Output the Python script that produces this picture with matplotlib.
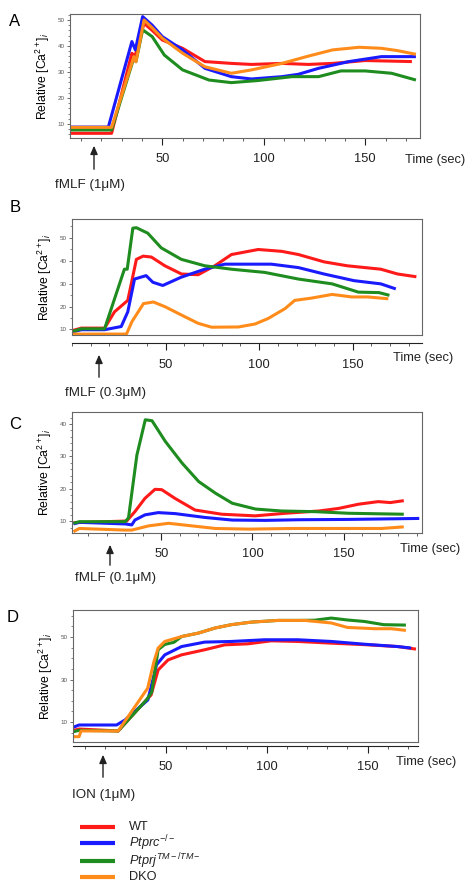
import matplotlib
matplotlib.use("Agg")
import matplotlib.pyplot as plt
from matplotlib.ticker import MultipleLocator
from matplotlib.lines import Line2D

plt.rcParams['font.family'] = ['Liberation Sans', 'DejaVu Sans']
plt.rcParams['mathtext.fontset'] = 'custom'
plt.rcParams['mathtext.rm'] = 'Liberation Sans'
plt.rcParams['mathtext.it'] = 'Liberation Sans:italic'

series_names = ['WT', r'$\mathit{Ptprc}^{-/-}$', r'$\mathit{Ptprj}^{\mathit{TM-/TM-}}$', 'DKO']
series_colors = ['#ff1a1a', '#1a1aff', '#1e8c1e', '#ff8c1a']

# ---- panel A : fMLF 1 uM ----
a_wt_t = [5, 25, 35, 36.5, 41, 45, 50, 60, 71, 84, 94, 109, 122, 134, 150, 173]
a_wt = [6.4, 6.4, 37.2, 36, 48.7, 46, 42.3, 39.1, 34, 33.3, 32.9, 33.3, 32.9, 33.3, 34.4, 34]
a_ko1_t = [5, 23.4, 35, 36.7, 40.3, 45, 50, 60, 71, 84, 94, 109, 117, 127, 142, 158, 175]
a_ko1 = [8.8, 8.8, 41.7, 38.5, 51.3, 48, 43.6, 38.5, 31.4, 28.2, 27.3, 28.2, 29.1, 31.4, 34, 35.9, 35.9]
a_ko2_t = [5, 25, 36, 37, 40.3, 45, 51, 60, 73, 84, 97, 114, 127, 138, 150, 163, 175]
a_ko2 = [7.7, 7.7, 35.5, 34, 46.2, 43.6, 36.5, 30.8, 26.9, 25.9, 26.7, 28.2, 28.2, 30.4, 30.4, 29.5, 26.9]
a_dko_t = [5, 25, 36, 37, 41, 45, 50, 60, 71, 84, 94, 109, 121, 134, 147, 158, 166, 175]
a_dko = [8.7, 8.7, 35.9, 33.9, 50, 47, 43, 37.2, 32, 29.5, 30.8, 33.3, 35.9, 38.5, 39.5, 39.1, 38.2, 36.8]

# ---- panel B : fMLF 0.3 uM ----
b_wt_t = [0.5, 5, 17.4, 22.7, 29.8, 34.4, 38, 42.4, 49.6, 58.5, 67.4, 76.3, 85.2, 99.5, 112, 121, 134.7, 147, 165, 174, 184]
b_wt = [9.6, 10.6, 10.6, 17.7, 22.7, 40.6, 42, 41.6, 37.8, 34.2, 33.9, 37.8, 42.7, 44.9, 44.1, 42.7, 39.5, 37.8, 36.3, 34.2, 33]
b_ko1_t = [0.5, 5, 17.4, 26.3, 29.8, 33.4, 39.6, 43.2, 48.5, 58.3, 70.9, 81.6, 94, 106.5, 121, 134.7, 150.7, 165, 173]
b_ko1 = [9.0, 9.9, 9.9, 11.3, 17.7, 32, 33.5, 30.6, 29.2, 32.8, 36.3, 38.5, 38.5, 38.5, 37, 34.2, 31.3, 29.9, 27.7]
b_ko2_t = [0.5, 5, 17.4, 28, 29.5, 32.5, 34.4, 40.5, 47.7, 58.4, 70.9, 85.2, 103, 121, 139, 153, 164, 169.6]
b_ko2 = [9.2, 10.3, 10.3, 36.3, 36.3, 54.2, 54.4, 52, 45.6, 40.6, 37.8, 36.3, 34.9, 32, 29.9, 26.3, 26.1, 24.9]
b_dko_t = [0.5, 29.1, 32, 38.2, 43.5, 49.8, 58.5, 67.4, 74.6, 88.9, 97.8, 104.8, 113.8, 119, 128, 139, 149.5, 158, 169]
b_dko = [8.0, 8.0, 13.4, 21.3, 22, 19.9, 16.3, 12.7, 11, 11.1, 12.4, 14.8, 19.1, 22.7, 23.7, 25.3, 24.2, 24.2, 23.4]

# ---- panel C : fMLF 0.1 uM ----
c_wt_t = [1.8, 31, 35.5, 41, 46.5, 50.2, 57.5, 68.5, 83.2, 101.5, 118, 136.4, 147.3, 158.2, 169, 175.6, 183]
c_wt = [9.5, 10, 12.9, 17, 19.8, 19.7, 17, 13.4, 12.1, 11.6, 12.4, 13.1, 13.9, 15.2, 16, 15.7, 16.3]
c_ko1_t = [1.8, 5, 30.2, 33.8, 35.5, 41, 48.3, 57.5, 74, 88.9, 107, 125.4, 153, 191.5]
c_ko1 = [9.1, 9.6, 9.1, 8.8, 10.3, 11.9, 12.6, 12.3, 11.1, 10.3, 10.2, 10.4, 10.5, 10.8]
c_ko2_t = [1.8, 5, 30.2, 32, 36.6, 41.2, 44.9, 52.2, 61.4, 70.5, 79.7, 88.9, 101.7, 116, 134.4, 152.7, 183]
c_ko2 = [9.3, 9.8, 9.8, 11, 30.4, 41.3, 41, 34.6, 27.9, 22.2, 18.6, 15.5, 13.7, 13.1, 12.9, 12.4, 12.1]
c_dko_t = [1.8, 5, 30.2, 33.8, 43, 54, 66.8, 79.7, 98, 121.8, 153, 171, 183]
c_dko = [6.7, 7.7, 7.2, 7.2, 8.5, 9.3, 8.5, 7.7, 7.5, 7.7, 7.7, 7.7, 8.2]

# ---- panel D : ionomycin 1 uM ----
d_wt_t = [4.1, 7, 26.4, 40.4, 42.7, 46.2, 51.1, 57.8, 69.3, 79.2, 90.8, 102.3, 115.5, 132, 148.5, 165, 174]
d_wt = [6.0, 6.7, 5.8, 20.4, 22.7, 34.5, 39.2, 41.6, 44, 46.3, 46.8, 48.2, 47.9, 47.1, 46.4, 45.5, 44.3]
d_ko1_t = [4.1, 7, 25.6, 29.7, 41.1, 45.4, 49.5, 57.8, 69.3, 82.5, 99, 115.5, 132, 148.5, 165, 171.6]
d_ko1 = [7.5, 8.6, 8.6, 10.9, 20.4, 36.9, 41.6, 45.5, 47.6, 47.9, 48.7, 48.7, 47.9, 46.6, 45.5, 44.8]
d_ko2_t = [4.1, 7, 26.4, 40.4, 43, 46.2, 49.5, 54, 57.8, 66, 74.3, 82.5, 92.4, 105.6, 115.5, 123.8, 132, 140, 148.5, 158, 169]
d_ko2 = [5.4, 6.1, 5.8, 20.4, 24, 44, 46.5, 47.5, 50.2, 51.8, 54.2, 55.8, 57, 57.8, 57.8, 57.9, 58.9, 58, 57.3, 55.8, 55.6]
d_dko_t = [4.1, 7, 8, 26.4, 41, 44, 46.2, 49.5, 57.8, 66, 74.3, 82.5, 92.4, 105.6, 118.8, 132, 140, 153.5, 161.7, 169]
d_dko = [3.1, 3.1, 5.8, 5.8, 25.9, 38, 44.8, 47.9, 50.2, 51.8, 54.2, 55.8, 57, 57.8, 57.8, 56.6, 54.5, 53.9, 53.9, 53.1]

stim_labels = ['fMLF (1\u03bcM)', 'fMLF (0.3\u03bcM)', 'fMLF (0.1\u03bcM)', 'ION (1\u03bcM)']
panel_letters = ['A', 'B', 'C', 'D']

W, H = 474, 891
fig = plt.figure(figsize=(W / 100, H / 100), dpi=100)


def fx(px):
    return px / W


def fy(py):
    return 1 - py / H


def make_axes(left, right, top, bottom):
    return fig.add_axes([fx(left), fy(bottom), (right - left) / W, (bottom - top) / H])


panels = [
    dict(box=(70, 420, 14, 138), xlim=(4.5, 177), ylim=(4.6, 52.3), yticks=[10, 20, 30, 40, 50], yminor=2,
         data=[(a_wt_t, a_wt), (a_ko1_t, a_ko1), (a_ko2_t, a_ko2), (a_dko_t, a_dko)],
         offset=0, time_xy=(0.957, -0.177), letter=(15, 21), arrow=(94, 172, 143), stim=(55, 185)),
    dict(box=(72, 422, 219, 335), xlim=(0, 187), ylim=(7.6, 58.2), yticks=[10, 20, 30, 40, 50], yminor=5,
         data=[(b_wt_t, b_wt), (b_ko1_t, b_ko1), (b_ko2_t, b_ko2), (b_dko_t, b_dko)],
         offset=6, time_xy=(0.917, -0.198), letter=(15, 207), arrow=(99, 380, 352), stim=(65, 393)),
    dict(box=(72, 422, 412, 533), xlim=(1, 193), ylim=(6.3, 43.7), yticks=[10, 20, 30, 40], yminor=2,
         data=[(c_wt_t, c_wt), (c_ko1_t, c_ko1), (c_ko2_t, c_ko2), (c_dko_t, c_dko)],
         offset=0, time_xy=(0.937, -0.132), letter=(15, 425), arrow=(110, 568, 542), stim=(75, 578)),
    dict(box=(73, 418, 610, 742), xlim=(4, 175), ylim=(0.6, 62.7), yticks=[10, 30, 50], yminor=5,
         data=[(d_wt_t, d_wt), (d_ko1_t, d_ko1), (d_ko2_t, d_ko2), (d_dko_t, d_dko)],
         offset=3, time_xy=(0.936, -0.152), letter=(13, 618), arrow=(103, 780, 752), stim=(72, 795)),
]

for i, p in enumerate(panels):
    ax = make_axes(*p['box'])
    for (t, v), col in zip(p['data'], series_colors):
        ax.plot(t, v, color=col, lw=2.2, solid_capstyle='butt')
    ax.set_xlim(*p['xlim'])
    ax.set_ylim(*p['ylim'])
    ax.set_xticks([50, 100, 150])
    ax.xaxis.set_minor_locator(MultipleLocator(10))
    ax.set_yticks(p['yticks'])
    ax.yaxis.set_minor_locator(MultipleLocator(p['yminor']))
    for s in ['top', 'right', 'left', 'bottom']:
        ax.spines[s].set_color('#666666')
        ax.spines[s].set_linewidth(0.8)
    if p['offset']:
        ax.spines['bottom'].set_position(('outward', p['offset']))
        ax.spines['bottom'].set_color('#222222')
        ax.plot([0, 1], [0, 0], transform=ax.transAxes, color='#666666', lw=0.8, clip_on=False)
    ax.tick_params(axis='x', which='major', direction='out', length=5, width=0.8, pad=6,
                   labelsize=9.3, colors='#222222')
    ax.tick_params(axis='x', which='minor', direction='out', length=2.5, width=0.6, colors='#444444')
    ax.tick_params(axis='y', which='major', direction='out', length=2.5, width=0.6, pad=1.5,
                   labelsize=4.5, colors='#555555')
    ax.tick_params(axis='y', which='minor', direction='out', length=1.5, width=0.5, colors='#555555')
    ax.set_ylabel(r'Relative [Ca$^{2+}$]$_i$', fontsize=8.8, labelpad=4)
    ax.text(p['time_xy'][0], p['time_xy'][1], 'Time (sec)', transform=ax.transAxes,
            ha='left', va='center', fontsize=9.3, color='#222222')

    lx, ly = p['letter']
    fig.text(fx(lx), fy(ly), panel_letters[i], ha='center', va='center', fontsize=12)
    axx, ay0, ay1 = p['arrow']
    fig.add_artist(matplotlib.patches.FancyArrowPatch(
        (fx(axx), fy(ay0)), (fx(axx), fy(ay1)), transform=fig.transFigure,
        arrowstyle='-|>,head_length=5,head_width=2.2', color='#222222', lw=1.0))
    sx, sy = p['stim']
    fig.text(fx(sx), fy(sy), stim_labels[i], ha='left', va='center', fontsize=9.6, color='#222222')

# legend, drawn row by row
legend_rows = [827, 843, 861, 877]
for name, col, ry in zip(series_names, series_colors, legend_rows):
    fig.add_artist(Line2D([fx(80), fx(115)], [fy(ry), fy(ry)], transform=fig.transFigure,
                          color=col, lw=3, solid_capstyle='butt'))
    fig.text(fx(129), fy(ry), name, ha='left', va='center', fontsize=9.2, color='#222222')

fig.savefig('out.png', dpi=100)
